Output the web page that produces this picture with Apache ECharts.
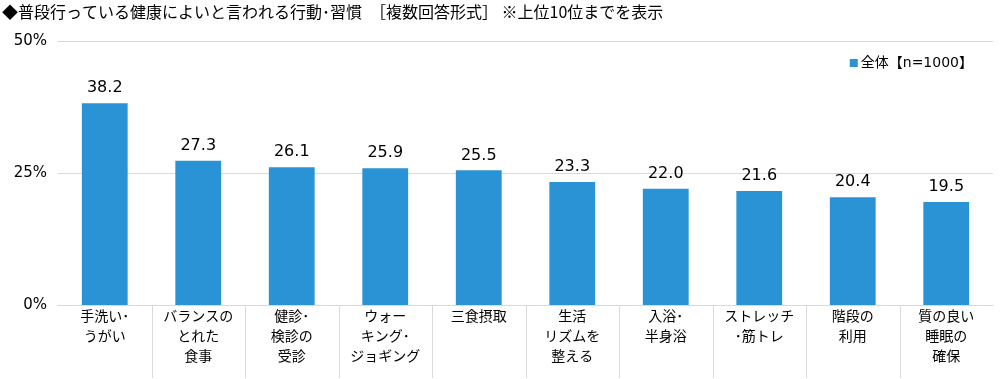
<!DOCTYPE html>
<html><head><meta charset="utf-8">
<script src="https://cdn.jsdelivr.net/npm/echarts@6/dist/echarts.min.js"></script>
<style>html,body{margin:0;padding:0;background:#fff;}#c{width:1000px;height:379px;}</style>
</head><body><div id="c"></div>
<script>
const titleText = '◆普段行っている健康によいと言われる行動･習慣　［複数回答形式］ ※上位10位までを表示';
const categories = ['手洗い･\nうがい','バランスの\nとれた\n食事','健診･\n検診の\n受診','ウォー\nキング･\nジョギング','三食摂取','生活\nリズムを\n整える','入浴･\n半身浴','ストレッチ\n･筋トレ','階段の\n利用','質の良い\n睡眠の\n確保'];
const seriesName = '全体【n=1000】';
const values = [38.2, 27.3, 26.1, 25.9, 25.5, 23.3, 22.0, 21.6, 20.4, 19.5];
const yTicks = [0, 25, 50];
const dividerIdx = [1,2,3,4,5,6,7,8,9];

const font = '"Noto Sans CJK JP", "Noto Sans", sans-serif';
const numFont = '"DejaVu Sans", "Noto Sans CJK JP", sans-serif';
const chart = echarts.init(document.getElementById('c'));
chart.setOption({
  animation: false,
  textStyle: { fontFamily: font },
  title: { text: titleText, left: -3, top: -1, textStyle: { fontSize: 16, fontWeight: 'normal', color: '#000', fontFamily: font } },
  legend: { data: [seriesName], right: 22, top: 51, icon: 'rect', itemWidth: 8, itemHeight: 8, itemGap: 4,
    textStyle: { fontSize: 14, color: '#000', fontFamily: numFont, padding: [0,0,0,-2] } },
  grid: { left: 58, right: 7, top: 41, bottom: 74, containLabel: false },
  xAxis: [{
    type: 'category', data: categories,
    axisLine: { lineStyle: { color: '#d9d9d9', width: 1 } },
    axisTick: { show: false },
    axisLabel: { interval: 0, fontSize: 14, color: '#000', lineHeight: 20, margin: 1, fontFamily: font, verticalAlign: 'top' }
  }, {
    type: 'value', min: 0, max: 10, show: false
  }],
  yAxis: {
    type: 'value', min: yTicks[0], max: yTicks[yTicks.length-1], interval: 25,
    axisLabel: { formatter: '{value}%', fontSize: 15, color: '#000', margin: 11, fontFamily: numFont },
    axisLine: { show: false }, axisTick: { show: false },
    splitLine: { lineStyle: { color: '#d9d9d9', width: 1 } }
  },
  series: [{
    name: seriesName, type: 'bar', data: values, barWidth: '49%',
    itemStyle: { color: '#2a93d5' },
    label: { show: true, position: 'top', distance: 7, fontSize: 16, color: '#000', fontFamily: numFont,
      formatter: p => p.value.toFixed(1) }
  }, {
    type: 'custom', xAxisIndex: 1, silent: true, clip: false,
    data: dividerIdx,
    renderItem: function (params, api) {
      const p = api.coord([api.value(0), 0]);
      return { type: 'line', shape: { x1: Math.round(p[0]) + 0.5, y1: p[1] + 1, x2: Math.round(p[0]) + 0.5, y2: p[1] + 73 },
        style: { stroke: '#d9d9d9', lineWidth: 1 } };
    },
    encode: { x: 0, y: 0 }
  }]
});
</script></body></html>
